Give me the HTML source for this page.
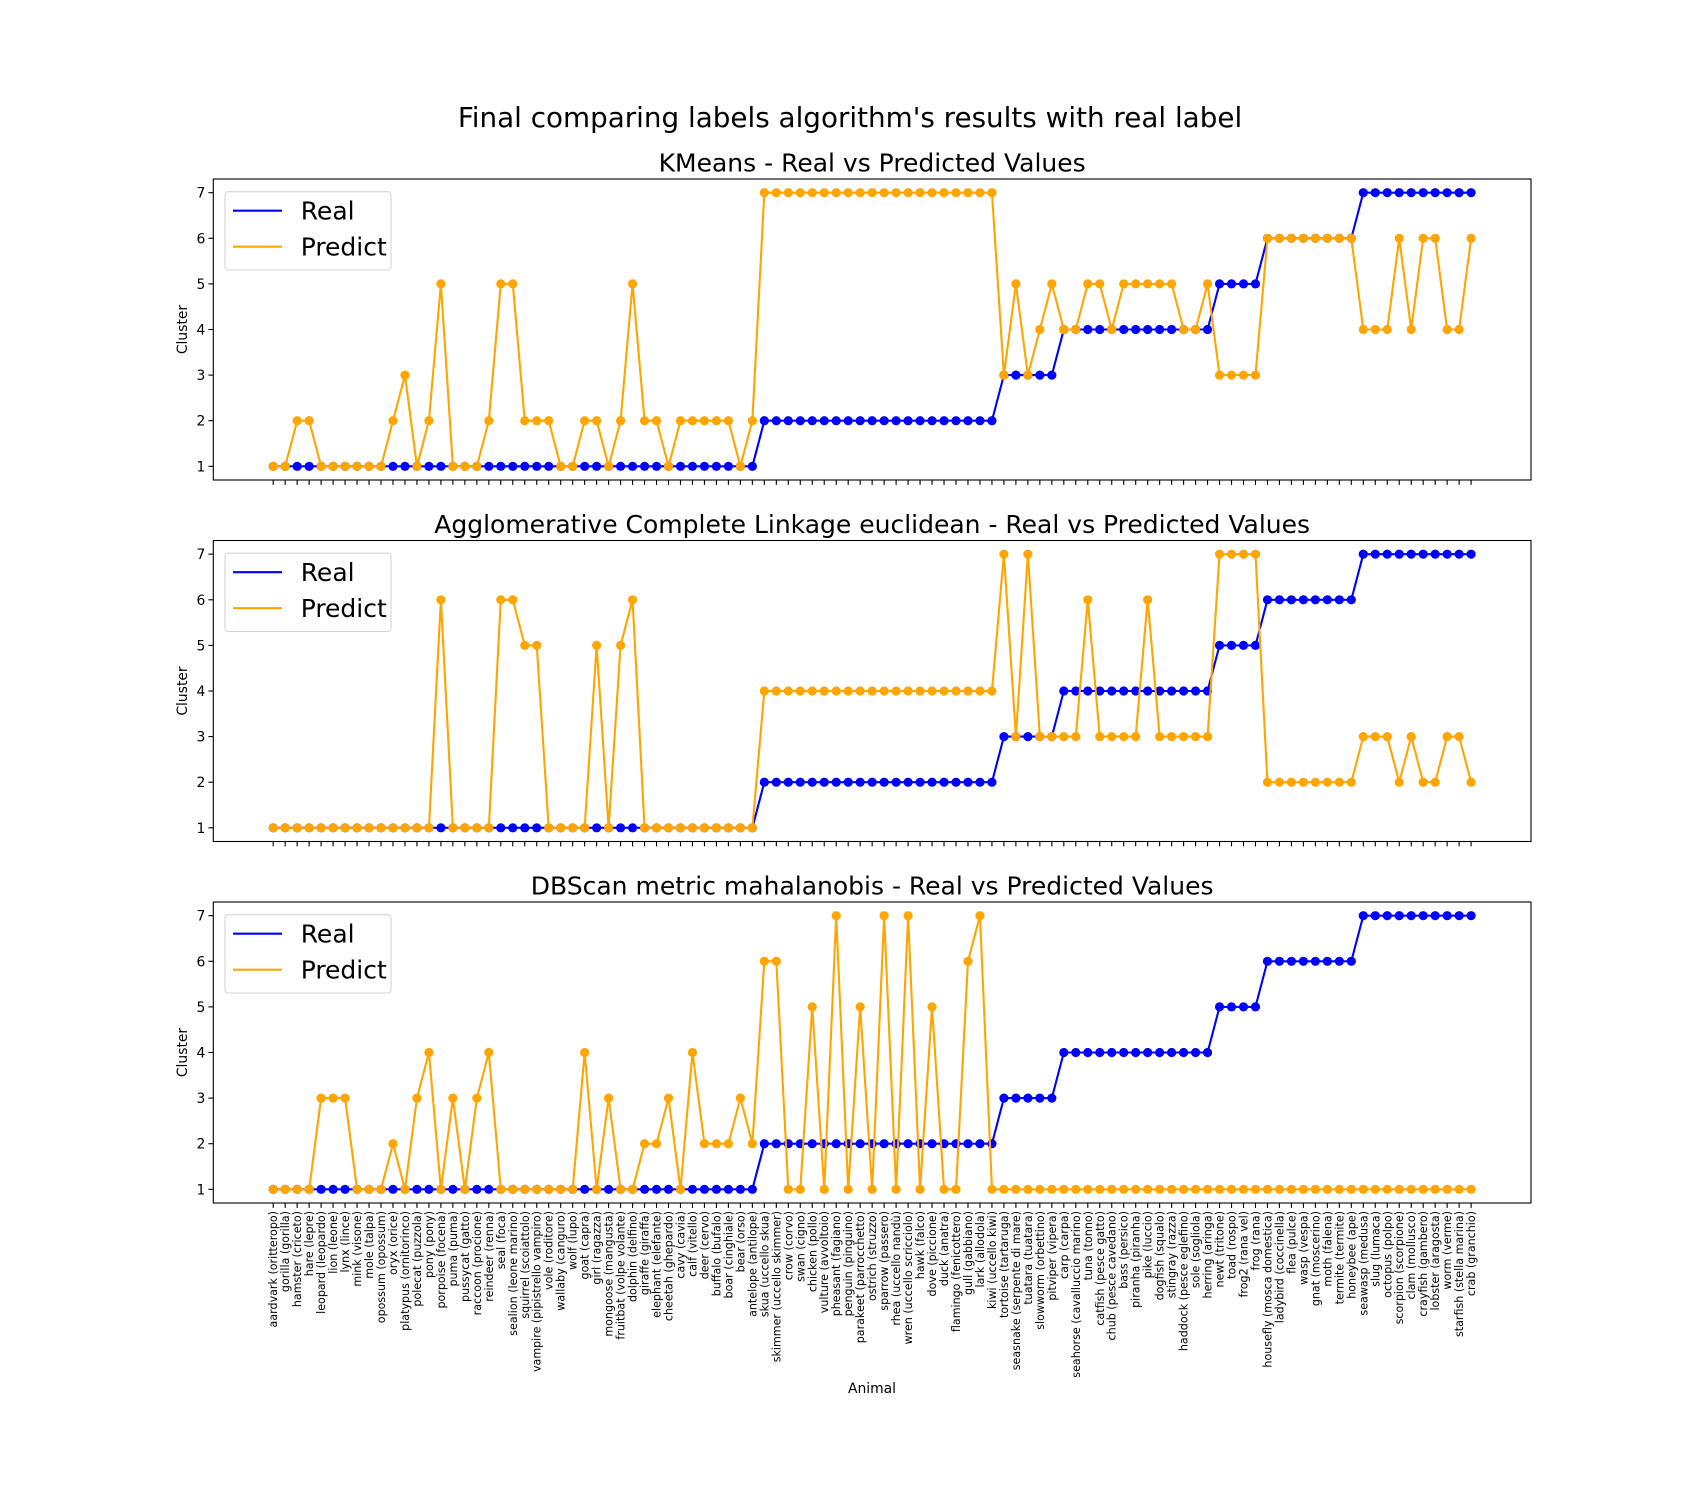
<!DOCTYPE html>
<html><head><meta charset="utf-8"><style>
html,body{margin:0;padding:0;background:#fff;}
svg{display:block;font-family:"DejaVu Sans","Liberation Sans",sans-serif;}
</style></head>
<body>
<svg id="fig" width="1700" height="1500" viewBox="0 0 1700 1500" xmlns="http://www.w3.org/2000/svg">
<rect width="1700" height="1500" fill="#fff"/>
<text x="850" y="127" text-anchor="middle" font-size="27.8" fill="#000">Final comparing labels algorithm's results with real label</text>
<text x="872" y="1393" text-anchor="middle" font-size="13.9" fill="#000">Animal</text>
</svg>
<script>
const animals = ["aardvark (oritteropo)","gorilla (gorilla)","hamster (criceto)","hare (lepre)","leopard (leopardo)","lion (leone)","lynx (lince)","mink (visone)","mole (talpa)","opossum (opossum)","oryx (orice)","platypus (ornitorinco)","polecat (puzzola)","pony (pony)","porpoise (focena)","puma (puma)","pussycat (gatto)","raccoon (procione)","reindeer (renna)","seal (foca)","sealion (leone marino)","squirrel (scoiattolo)","vampire (pipistrello vampiro)","vole (roditore)","wallaby (canguro)","wolf (lupo)","goat (capra)","girl (ragazza)","mongoose (mangusta)","fruitbat (volpe volante)","dolphin (delfino)","giraffe (giraffa)","elephant (elefante)","cheetah (ghepardo)","cavy (cavia)","calf (vitello)","deer (cervo)","buffalo (bufalo)","boar (cinghiale)","bear (orso)","antelope (antilope)","skua (uccello skua)","skimmer (uccello skimmer)","crow (corvo)","swan (cigno)","chicken (pollo)","vulture (avvoltoio)","pheasant (fagiano)","penguin (pinguino)","parakeet (parrocchetto)","ostrich (struzzo)","sparrow (passero)","rhea (uccello nandù)","wren (uccello scricciolo)","hawk (falco)","dove (piccione)","duck (anatra)","flamingo (fenicottero)","gull (gabbiano)","lark (allodola)","kiwi (uccello kiwi)","tortoise (tartaruga)","seasnake (serpente di mare)","tuatara (tuatara)","slowworm (orbettino)","pitviper (vipera)","carp (carpa)","seahorse (cavalluccio marino)","tuna (tonno)","catfish (pesce gatto)","chub (pesce cavedano)","bass (persico)","piranha (piranha)","pike (luccio)","dogfish (squalo)","stingray (razza)","haddock (pesce eglefino)","sole (sogliola)","herring (aringa)","newt (tritone)","toad (rospo)","frog2 (rana vel)","frog (rana)","housefly (mosca domestica)","ladybird (coccinella)","flea (pulce)","wasp (vespa)","gnat (moscerino)","moth (falena)","termite (termite)","honeybee (ape)","seawasp (medusa)","slug (lumaca)","octopus (polpo)","scorpion (scorpione)","clam (mollusco)","crayfish (gambero)","lobster (aragosta)","worm (verme)","starfish (stella marina)","crab (granchio)"];

const realValues = [1,1,1,1,1,1,1,1,1,1,1,1,1,1,1,1,1,1,1,1,1,1,1,1,1,1,1,1,1,1,1,1,1,1,1,1,1,1,1,1,1,
2,2,2,2,2,2,2,2,2,2,2,2,2,2,2,2,2,2,2,2,
3,3,3,3,3,
4,4,4,4,4,4,4,4,4,4,4,4,4,
5,5,5,5,
6,6,6,6,6,6,6,6,
7,7,7,7,7,7,7,7,7,7];

const kmeansPred = [1,1,2,2,1,1,1,1,1,1,2,3,1,2,5,1,1,1,2,5,5,2,2,2,1,1,2,2,1,2,5,2,2,1,2,2,2,2,2,1,2,
7,7,7,7,7,7,7,7,7,7,7,7,7,7,7,7,7,7,7,7,
3,5,3,4,5,
4,4,5,5,4,5,5,5,5,5,4,4,5,
3,3,3,3,
6,6,6,6,6,6,6,6,
4,4,4,6,4,6,6,4,4,6];

const aggloPred = [1,1,1,1,1,1,1,1,1,1,1,1,1,1,6,1,1,1,1,6,6,5,5,1,1,1,1,5,1,5,6,1,1,1,1,1,1,1,1,1,1,
4,4,4,4,4,4,4,4,4,4,4,4,4,4,4,4,4,4,4,4,
7,3,7,3,3,
3,3,6,3,3,3,3,6,3,3,3,3,3,
7,7,7,7,
2,2,2,2,2,2,2,2,
3,3,3,2,3,2,2,3,3,2];

const dbscanPred = [1,1,1,1,3,3,3,1,1,1,2,1,3,4,1,3,1,3,4,1,1,1,1,1,1,1,4,1,3,1,1,2,2,3,1,4,2,2,2,3,2,
6,6,1,1,5,1,7,1,5,1,7,1,7,1,5,1,1,6,7,1,
1,1,1,1,1,
1,1,1,1,1,1,1,1,1,1,1,1,1,
1,1,1,1,
1,1,1,1,1,1,1,1,
1,1,1,1,1,1,1,1,1,1];

const panelTitles = ["KMeans - Real vs Predicted Values","Agglomerative Complete Linkage euclidean - Real vs Predicted Values","DBScan metric mahalanobis - Real vs Predicted Values"];
const yTicks = [1,2,3,4,5,6,7];
const legendLabels = ["Real","Predict"];

const NS = "http://www.w3.org/2000/svg";
const svg = document.getElementById('fig');
function mk(tag, attrs, parent){
  const e = document.createElementNS(NS, tag);
  for (const k in attrs) e.setAttribute(k, attrs[k]);
  (parent||svg).appendChild(e);
  return e;
}
const AX_L = 213.3, AX_R = 1531, AX_H = 301;
const panelTops = [179, 540.5, 902];
const n = animals.length;
function xScale(i){ const lo=-5, hi=(n-1)+5; return AX_L + (i-lo)/(hi-lo)*(AX_R-AX_L); }
function makeY(top){
  const lo=0.7, hi=7.3;
  return v => top + AX_H - (v-lo)/(hi-lo)*AX_H;
}
const predSets = [kmeansPred, aggloPred, dbscanPred];
const panelNames = ['kmeans','agglomerative','dbscan'];

predSets.forEach((pred, p) => {
  const top = panelTops[p];
  const y = makeY(top);
  const g = mk('g', {});
  
  
  const t = mk('text', {x:(AX_L+AX_R)/2, y:top-7.5, 'text-anchor':'middle', 'font-size':'25', fill:'#000'}, g);
  t.textContent = panelTitles[p];
  
  
  yTicks.forEach(v => {
    const yy = y(v);
    mk('line', {x1:AX_L-4.9, x2:AX_L, y1:yy, y2:yy, stroke:'#000', 'stroke-width':1.1}, g);
    const tl = mk('text', {x:AX_L-8, y:yy+5, 'text-anchor':'end', 'font-size':'13.9', fill:'#000'}, g);
    tl.textContent = v;
    
    
  });
  const yl = mk('text', {x:0, y:0, transform:`translate(187,${top+AX_H/2}) rotate(-90)`, 'text-anchor':'middle', 'font-size':'13.9', fill:'#000'}, g);
  yl.textContent = 'Cluster';
  
  
  for (let i=0;i<n;i++){
    const xx = xScale(i);
    mk('line', {x1:xx, x2:xx, y1:top+AX_H, y2:top+AX_H+4.9, stroke:'#000', 'stroke-width':1.1}, g);
    if (p===2){
      const xl = mk('text', {x:0, y:0, transform:`translate(${xx+4},${top+AX_H+8}) rotate(-90)`, 'text-anchor':'end', 'font-size':'11.1', fill:'#000'}, g);
      xl.textContent = animals[i];
      
      
    }
  }
  const series = [[realValues,'#0000ff','real'],[pred,'#ffa500','predict']];
  series.forEach(([vals,col,nm]) => {
    const pts = vals.map((v,i)=>xScale(i).toFixed(2)+','+y(v).toFixed(2)).join(' ');
    const pl = mk('polyline', {points:pts, fill:'none', stroke:col, 'stroke-width':2.1, 'stroke-linejoin':'round'}, g);
    
    
    vals.forEach((v,i) => {
      const c = mk('circle', {cx:xScale(i), cy:y(v), r:4.6, fill:col}, g);
      
      
    });
  });
  const fr = mk('rect', {x:AX_L, y:top, width:AX_R-AX_L, height:AX_H, fill:'none', stroke:'#000', 'stroke-width':1.1}, g);
  
  
  const lg = mk('g', {}, g);
  
  
  mk('rect', {x:225, y:top+12.7, width:166, height:78.3, rx:3, fill:'#fff', 'fill-opacity':0.8, stroke:'#d6d6d6', 'stroke-width':1.1}, lg);
  [['#0000ff',legendLabels[0],31.7],['#ffa500',legendLabels[1],67.7]].forEach(([col,lab,dy]) => {
    const e = mk('g', {}, lg);
    
    
    mk('line', {x1:233, x2:282, y1:top+dy, y2:top+dy, stroke:col, 'stroke-width':2.1}, e);
    const tx = mk('text', {x:300.7, y:top+dy+9, 'font-size':'25', fill:'#000'}, e);
    tx.textContent = lab;
  });
});
</script>
</body></html>
